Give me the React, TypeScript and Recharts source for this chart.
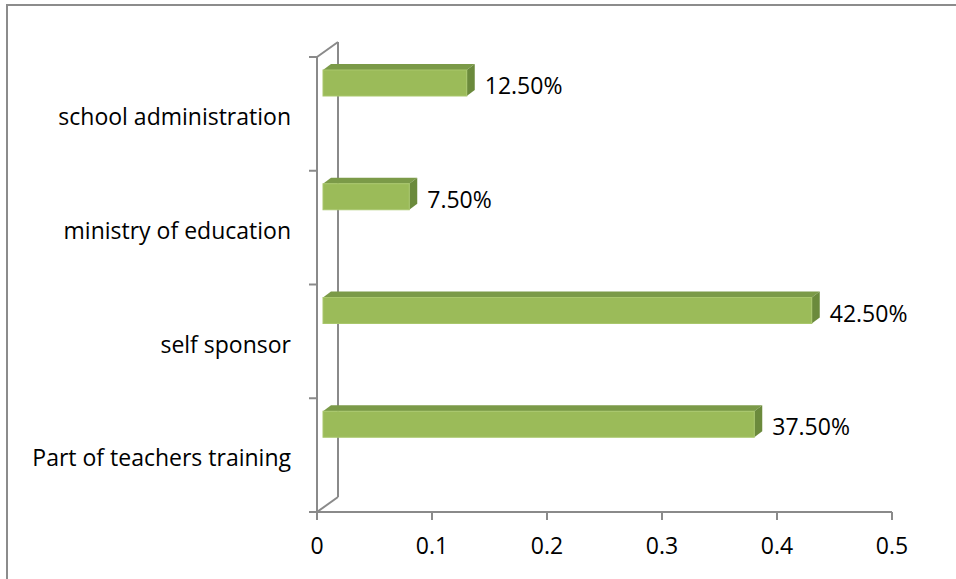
import React from 'react'
import * as R from 'recharts'
import { BarChart, Bar, XAxis, YAxis } from 'recharts'

// top to bottom, as shown in the chart
const categories = ['school administration', 'ministry of education', 'self sponsor', 'Part of teachers training']
const shares = [0.125, 0.075, 0.425, 0.375]
const xTicks = [0, 0.1, 0.2, 0.3, 0.4, 0.5]

const data = categories.map((name, i) => ({ name, value: shares[i] }))

const W = 956
const H = 579
const MARGIN = { top: 57, right: 64, bottom: 27, left: 0 }
const FONT = '"Open Sans", sans-serif'
const FS = 23
const AXIS = '#8a8a8a'
const FRONT = '#9bbb59'
const TOP = '#7b9a48'
const SIDE = '#6b8a3c'

// 3d offsets
const BAR_DX = 8
const BAR_DY = 6
const BAR_H = 26
const BAR_SHIFT = -31
const FRONT_INSET = 6
const WALL_DX = 21
const WALL_DY = 15
const TICK = 8

const pct = (v: number) => `${(v * 100).toFixed(2)}%`

function Bar3D(props: any) {
  const { x, y, width, payload } = props
  const fx = x + FRONT_INSET
  const fy = y + BAR_SHIFT
  const w = width
  const r = fx + w
  return (
    <g>
      <polygon
        points={`${fx},${fy} ${fx + BAR_DX},${fy - BAR_DY} ${r + BAR_DX},${fy - BAR_DY} ${r},${fy}`}
        fill={TOP}
      />
      <polygon
        points={`${r},${fy} ${r + BAR_DX},${fy - BAR_DY} ${r + BAR_DX},${fy + BAR_H - BAR_DY} ${r},${fy + BAR_H}`}
        fill={SIDE}
      />
      <rect x={fx} y={fy} width={w} height={BAR_H} fill={FRONT} stroke="#a9c76c" strokeWidth={1} />
      <text
        x={r + BAR_DX + 10}
        y={fy + BAR_H / 2 + 2}
        dominantBaseline="central"
        fontFamily={FONT}
        fontSize={FS}
        fill="#000"
      >
        {pct(payload.value)}
      </text>
    </g>
  )
}

// back wall of the 3d box + tick marks on the band edges of the category axis
function BackWall() {
  const area = (R as any).usePlotArea ? (R as any).usePlotArea() : null
  const px = area?.x ?? 317
  const py = area?.y ?? MARGIN.top
  const ph = area?.height ?? H - MARGIN.top - MARGIN.bottom - 40
  const wx = px + WALL_DX
  const band = ph / categories.length
  return (
    <g stroke={AXIS} strokeWidth={2} fill="none">
      <line x1={px} y1={py} x2={wx} y2={py - WALL_DY} />
      <line x1={wx} y1={py - WALL_DY} x2={wx} y2={py + ph - WALL_DY} />
      <line x1={px} y1={py + ph} x2={wx} y2={py + ph - WALL_DY} />
      {[...categories, ''].map((_, i) => (
        <line key={i} x1={px - TICK} y1={py + i * band} x2={px} y2={py + i * band} />
      ))}
    </g>
  )
}

export default function App() {
  return (
    <div style={{ position: 'absolute', left: 0, top: 0, width: W, height: H, overflow: 'hidden', background: '#fff' }}>
      <div
        style={{
          position: 'absolute',
          left: 6,
          top: 4,
          width: W,
          height: H,
          borderTop: '2px solid #8c8c8c',
          borderLeft: '2px solid #8c8c8c',
        }}
      />
      <div style={{ position: 'absolute', left: 0, top: 0 }}>
        <BarChart width={W} height={H} data={data} layout="vertical" margin={MARGIN} barSize={BAR_H}>
          <BackWall />
          <XAxis
            type="number"
            domain={[0, 0.5]}
            ticks={xTicks}
            height={40}
            stroke={AXIS}
            strokeWidth={2}
            tickSize={TICK}
            tickMargin={18}
            tick={{ fontFamily: FONT, fontSize: FS, fill: '#000' }}
          />
          <YAxis
            type="category"
            dataKey="name"
            width={317}
            stroke={AXIS}
            strokeWidth={2}
            tickLine={false}
            tickSize={TICK}
            tickMargin={18}
            tick={{ fontFamily: FONT, fontSize: FS, fill: '#000', dy: 3 }}
          />
          <Bar dataKey="value" isAnimationActive={false} shape={<Bar3D />} />
        </BarChart>
      </div>
    </div>
  )
}
